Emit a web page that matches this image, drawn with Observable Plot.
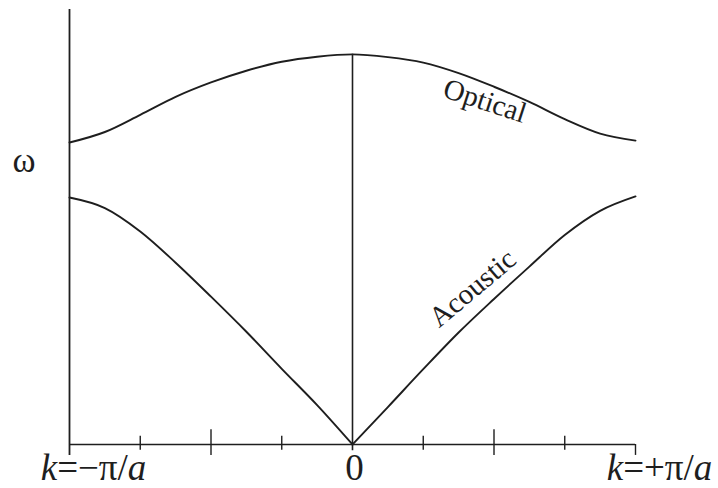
<!DOCTYPE html>
<html>
<head>
<meta charset="utf-8">
<script src="https://cdn.jsdelivr.net/npm/d3@7"></script>
<script src="https://cdn.jsdelivr.net/npm/@observablehq/plot@0.6"></script>
<style>
  html, body { margin: 0; padding: 0; background: #fff; }
  #chart { width: 718px; height: 488px; }
</style>
</head>
<body>
<div id="chart"></div>
<script>
// Phonon dispersion of a diatomic chain across the first Brillouin zone.
// k in units of π/a, ω relative to the top of the optical branch.
const ks = [-1, -0.875, -0.75, -0.625, -0.5, -0.375, -0.25, -0.125, 0,
            0.125, 0.25, 0.375, 0.5, 0.625, 0.75, 0.875, 1];
const optical = [0.774, 0.801, 0.845, 0.891, 0.928, 0.958, 0.981, 0.994, 1.0,
                 0.993, 0.979, 0.952, 0.917, 0.878, 0.834, 0.797, 0.779];
const acoustic = [0.633, 0.606, 0.546, 0.466, 0.379, 0.289, 0.194, 0.101, 0,
                  0.096, 0.193, 0.287, 0.373, 0.456, 0.537, 0.599, 0.636];

const minorTicks = [-0.75, -0.25, 0.25, 0.75];
const majorTicks = [-0.5, 0.5];
const endTicks = [1];
const edgeLabelKs = [-1, 1];
const edgeLabels = ["k=−π/a", "k=+π/a"];
const centerLabel = "0";
const branchNames = ["Optical", "Acoustic"];
const yLabel = "ω";

// Optical branch is smooth through k = 0; the acoustic branch has a cusp there,
// so its two halves are drawn as separate curves.
const opticalRows = ks.map((k, i) => ({k, w: optical[i]}));
const acousticRows = ks.flatMap((k, i) => {
  const rows = [];
  if (k <= 0) rows.push({k, w: acoustic[i], side: "left"});
  if (k >= 0) rows.push({k, w: acoustic[i], side: "right"});
  return rows;
});
const peak = optical[ks.indexOf(0)];

const serif = "'Liberation Serif', 'DejaVu Serif', serif";
const ink = "#1e1e1e";

const chart = Plot.plot({
  width: 718,
  height: 488,
  marginLeft: 69,
  marginRight: 83,
  marginTop: 9,
  marginBottom: 44,
  x: {domain: [-1, 1], axis: null},
  y: {domain: [0, 1.115], axis: null},
  style: {background: "#fff", overflow: "visible", fontFamily: serif, color: ink},
  marks: [
    // axes
    Plot.ruleX([-1], {y1: -0.028, y2: 1.115, stroke: ink, strokeWidth: 1.8}),
    Plot.ruleY([0], {x1: -1, x2: 1, stroke: ink, strokeWidth: 1.4}),
    Plot.ruleX([0], {y1: -0.016, y2: peak, stroke: ink, strokeWidth: 1.6}),
    Plot.ruleX(minorTicks, {y1: -0.015, y2: 0.021, stroke: ink, strokeWidth: 1.4}),
    Plot.ruleX(majorTicks, {y1: -0.028, y2: 0.038, stroke: ink, strokeWidth: 1.4}),
    Plot.ruleX(endTicks, {y1: -0.028, y2: 0, stroke: ink, strokeWidth: 1.4}),
    // branches
    Plot.line(opticalRows, {x: "k", y: "w", curve: "monotone-x", stroke: ink, strokeWidth: 1.9}),
    Plot.line(acousticRows, {x: "k", y: "w", z: "side", curve: "monotone-x", stroke: ink, strokeWidth: 1.9}),
    // branch names along the curves
    Plot.text([branchNames[0]], {x: () => 0.458, y: () => 0.858, text: d => d, rotate: 18,
      fontSize: 29, fontFamily: serif, fill: ink, textAnchor: "middle", lineAnchor: "bottom"}),
    Plot.text([branchNames[1]], {x: () => 0.445, y: () => 0.382, text: d => d, rotate: -40,
      fontSize: 29, fontFamily: serif, fill: ink, textAnchor: "middle", lineAnchor: "bottom"}),
    // axis labels
    Plot.text(edgeLabelKs, {x: d => d, y: () => -0.09, text: (d, i) => edgeLabels[i], dx: 24,
      fontSize: 37, fontFamily: serif, fill: ink, textAnchor: "middle", lineAnchor: "bottom"}),
    Plot.text([0], {x: d => d, y: () => -0.09, text: () => centerLabel, dx: 2,
      fontSize: 37, fontFamily: serif, fill: ink, textAnchor: "middle", lineAnchor: "bottom"}),
    Plot.text([yLabel], {x: () => -1.161, y: () => 0.698, text: d => d,
      fontSize: 35, fontFamily: serif, fill: ink, textAnchor: "middle", lineAnchor: "bottom"})
  ]
});

// Set the wave number k and lattice constant a in italics.
chart.querySelectorAll("text").forEach(t => {
  const s = t.textContent;
  if (!/^k=/.test(s)) return;
  t.textContent = "";
  const parts = [["k", true], [s.slice(1, s.length - 1), false], ["a", true]];
  for (const [str, italic] of parts) {
    const span = document.createElementNS("http://www.w3.org/2000/svg", "tspan");
    span.textContent = str;
    if (italic) span.setAttribute("font-style", "italic");
    t.appendChild(span);
  }
});

document.getElementById("chart").appendChild(chart);
</script>
</body>
</html>
